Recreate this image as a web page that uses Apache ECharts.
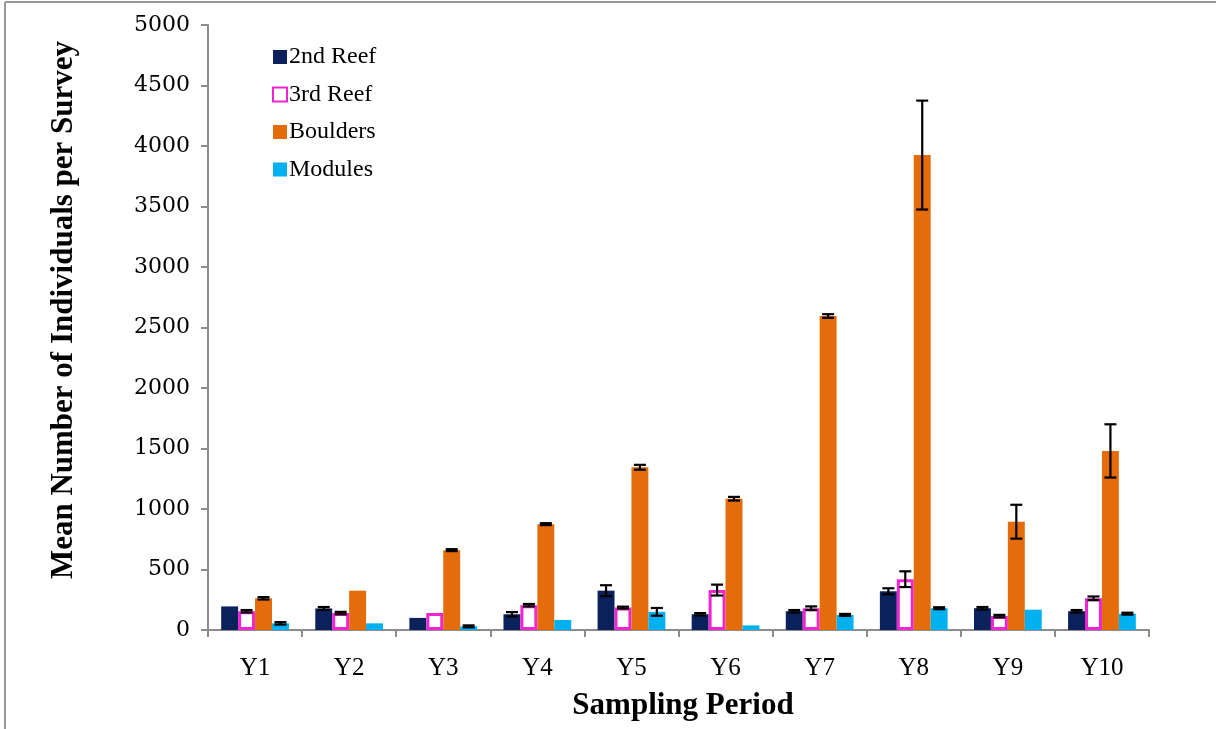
<!DOCTYPE html>
<html>
<head>
<meta charset="utf-8">
<script src="https://cdn.jsdelivr.net/npm/echarts@6/dist/echarts.min.js"></script>
<style>html,body{margin:0;padding:0;background:#fff;}#c{width:1216px;height:729px;}</style>
</head>
<body>
<div id="c"></div>
<script>
var categories = ['Y1','Y2','Y3','Y4','Y5','Y6','Y7','Y8','Y9','Y10'];
var yTicks = [0, 500, 1000, 1500, 2000, 2500, 3000, 3500, 4000, 4500, 5000];
var reef2 = [195, 178, 100, 130, 325, 130, 155, 320, 180, 155];
var reef2Err = [0, 12, 0, 18, 45, 10, 10, 25, 10, 10];
var reef3 = [155, 140, 140, 205, 185, 330, 180, 420, 115, 262];
var reef3Err = [10, 10, 0, 10, 8, 45, 15, 65, 10, 15];
var boulders = [262, 325, 660, 875, 1345, 1085, 2595, 3925, 895, 1480];
var bouldersErr = [10, 0, 8, 8, 20, 15, 15, 450, 140, 220];
var modules = [55, 55, 30, 83, 150, 38, 125, 180, 168, 135];
var modulesErr = [10, 0, 8, 0, 32, 0, 8, 8, 0, 8];
var seriesNames = ['2nd Reef', '3rd Reef', 'Boulders', 'Modules'];

var CAT_GAP = 0.28;
var chart = echarts.init(document.getElementById('c'), null, {renderer: 'canvas'});

function errSeries(k, vals, errs) {
  return {
    type: 'custom',
    z: 10,
    silent: true,
    data: vals.map(function (v, i) { return [i, v, errs[i]]; }),
    encode: {x: 0, y: 1},
    renderItem: function (params, api) {
      var c = api.value(0), v = api.value(1), e = api.value(2);
      if (!e) return null;
      var band = api.size([1, 0])[0];
      var bw = band * (1 - CAT_GAP) / 4;
      var x = api.coord([c, v])[0] + (k - 1.5) * bw;
      var yT = api.coord([c, v + e])[1];
      var yB = api.coord([c, v - e])[1];
      var cap = 6;
      var st = {stroke: '#000', lineWidth: 2.2};
      return {
        type: 'group',
        children: [
          {type: 'line', shape: {x1: x, y1: yT, x2: x, y2: yB}, style: st},
          {type: 'line', shape: {x1: x - cap, y1: yT, x2: x + cap, y2: yT}, style: st},
          {type: 'line', shape: {x1: x - cap, y1: yB, x2: x + cap, y2: yB}, style: st}
        ]
      };
    }
  };
}

var axisGray = '#8c8c8c';
var option = {
  animation: false,
  backgroundColor: '#fff',
  grid: {left: 208, right: 67, top: 25, bottom: 99, containLabel: false},
  legend: {
    data: seriesNames,
    orient: 'vertical',
    left: 267,
    top: 40,
    icon: 'rect',
    itemWidth: 14,
    itemHeight: 14,
    itemGap: 13.5,
    textStyle: {fontFamily: 'Liberation Serif', fontSize: 24, color: '#000', padding: [0, 0, 0, -3]}
  },
  xAxis: {
    type: 'category',
    data: categories,
    axisLine: {lineStyle: {color: axisGray, width: 2}},
    axisTick: {show: true, alignWithLabel: false, length: 7, lineStyle: {color: axisGray, width: 2}},
    axisLabel: {fontFamily: 'Liberation Serif', fontSize: 25, color: '#000', margin: 26},
    splitLine: {show: false}
  },
  yAxis: {
    type: 'value',
    min: yTicks[0],
    max: yTicks[yTicks.length - 1],
    interval: yTicks[1] - yTicks[0],
    axisLine: {show: true, lineStyle: {color: axisGray, width: 2}},
    axisTick: {show: true, length: 7, lineStyle: {color: axisGray, width: 2}},
    axisLabel: {fontFamily: 'DejaVu Serif', fontSize: 22, color: '#000', margin: 18,
      formatter: function (v) { return String(v); }},
    splitLine: {show: false}
  },
  graphic: [
    {type: 'line', shape: {x1: 5, y1: 2, x2: 1216, y2: 2}, style: {stroke: '#999', lineWidth: 2}},
    {type: 'line', shape: {x1: 5, y1: 2, x2: 5, y2: 729}, style: {stroke: '#999', lineWidth: 2}},
    {type: 'text', x: 64, y: 310, rotation: Math.PI / 2,
      style: {text: 'Mean Number of Individuals per Survey', font: 'bold 31px "Liberation Serif"', fill: '#000',
        align: 'center', verticalAlign: 'middle', textAlign: 'center', textVerticalAlign: 'middle'}},
    {type: 'text', x: 683, y: 706,
      style: {text: 'Sampling Period', font: 'bold 31px "Liberation Serif"', fill: '#000',
        align: 'center', verticalAlign: 'middle', textAlign: 'center', textVerticalAlign: 'middle'}}
  ],
  series: [
    {name: seriesNames[0], type: 'bar', data: reef2, barGap: '0%', barCategoryGap: '28%',
      itemStyle: {color: '#0a215c'}},
    {name: seriesNames[1], type: 'bar', data: reef3, barGap: '0%', barCategoryGap: '28%',
      itemStyle: {color: '#ffffff', borderColor: '#f024d2', borderWidth: 3}},
    {name: seriesNames[2], type: 'bar', data: boulders, barGap: '0%', barCategoryGap: '28%',
      itemStyle: {color: '#e46c0a'}},
    {name: seriesNames[3], type: 'bar', data: modules, barGap: '0%', barCategoryGap: '28%',
      itemStyle: {color: '#00b0f0'}},
    errSeries(0, reef2, reef2Err),
    errSeries(1, reef3, reef3Err),
    errSeries(2, boulders, bouldersErr),
    errSeries(3, modules, modulesErr)
  ]
};
chart.setOption(option);
</script>
</body>
</html>
